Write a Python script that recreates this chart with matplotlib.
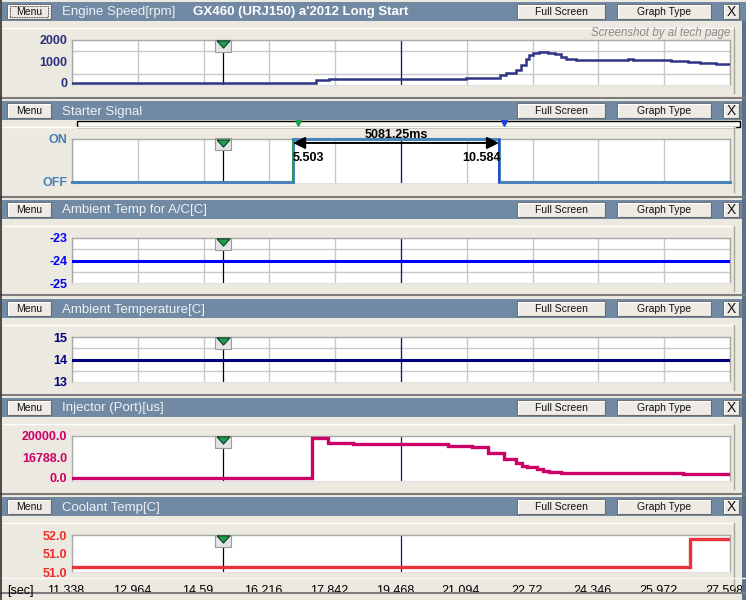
import matplotlib
matplotlib.use("Agg")
import matplotlib.pyplot as plt
from matplotlib.patches import Rectangle
from matplotlib.lines import Line2D
from matplotlib.transforms import blended_transform_factory, offset_copy

plt.rcParams['font.family'] = ['Liberation Sans', 'DejaVu Sans']

# time axis [sec]
time_ticks = [11.338, 12.964, 14.59, 16.216, 17.842, 19.468, 21.094, 22.72, 24.346, 25.972, 27.598]
time_labels = ["11.338", "12.964", "14.59", "16.216", "17.842", "19.468", "21.094",
               "22.72", "24.346", "25.972", "27.598"]
cursor_a = 15.07      # black cursor with green marker
cursor_b = 19.468     # blue cursor

# engine speed [rpm]
rpm_t = [11.338, 17.37, 17.70, 21.08, 21.66, 21.91, 22.06, 22.32, 22.44, 22.55, 22.63, 22.73,
         22.89, 23.10, 23.27, 23.43, 23.55, 23.80, 25.08, 25.20, 26.15, 26.56, 26.85, 27.26, 27.598]
rpm = [0, 135, 195, 240, 210, 365, 445, 600, 835, 1100, 1300, 1405,
       1425, 1380, 1330, 1220, 1130, 1065, 1110, 1065, 1020, 990, 940, 895, 895]

# starter signal (0 = OFF, 1 = ON)
starter_t = [11.338, 16.80, 21.89, 27.598]
starter = [0, 1, 0, 0]
starter_on_label = "5.503"
starter_off_label = "10.584"
starter_span_label = "5081.25ms"

# ambient temps [C]
ac_t = [11.338, 27.598]
ac_temp = [-24, -24]
amb_t = [11.338, 27.598]
amb_temp = [14, 14]

# injector (port) [us]
inj_t = [11.338, 17.27, 17.66, 18.28, 20.63, 21.22, 21.62, 22.01, 22.31, 22.46, 22.58,
         22.83, 22.98, 23.13, 23.42, 26.44, 27.598]
inj = [0, 19190, 16800, 16180, 15370, 14890, 11730, 9150, 6960, 5810, 5190,
       4090, 3420, 2940, 2470, 1990, 1990]

# coolant temp [C]
cool_t = [11.338, 26.61, 27.598]
coolant = [50.78, 51.85, 51.85]

BG = '#ECE9E1'
HEAD = '#7189A3'
W, H = 746, 600
fig = plt.figure(figsize=(W / 100, H / 100), dpi=100, facecolor=BG)


def fx(x): return x / W
def fy(y): return 1 - y / H


def rect(x0, y0, x1, y1, **kw):
    fig.add_artist(Rectangle((fx(x0), fy(y1)), (x1 - x0) / W, (y1 - y0) / H,
                             transform=fig.transFigure, **kw))


def seg(x0, y0, x1, y1, **kw):
    fig.add_artist(Line2D([fx(x0), fx(x1)], [fy(y0), fy(y1)], transform=fig.transFigure, **kw))


def button(x0, y0, x1, y1, label, fs=7.5):
    rect(x0, y0, x1, y1, facecolor='#EEEBE4', edgecolor='#6A6A6A', lw=0.8)
    seg(x0 + 1, y0 + 1, x1 - 1, y0 + 1, color='white', lw=0.8)
    seg(x0 + 1, y0 + 1, x0 + 1, y1 - 1, color='white', lw=0.8)
    fig.text(fx((x0 + x1) / 2), fy((y0 + y1) / 2 + 0.5), label, ha='center', va='center',
             fontsize=fs, color='#111111')


panels = [
    dict(title="Engine Speed[rpm]", t=rpm_t, v=rpm, color='#2E3585', tcol='#2B2F7E',
         ylim=(-100, 2000), ticks=[0, 1000, 2000], labels=["0", "1000", "2000"], grid=True, lw=1.8),
    dict(title="Starter Signal", t=starter_t, v=starter, color='#4A84BA', tcol='#4A7FB5',
         ylim=(-0.03, 1.0), ticks=[0, 1], labels=["OFF", "ON"], grid='x', lw=2.2),
    dict(title="Ambient Temp for A/C[C]", t=ac_t, v=ac_temp, color='#0000FF', tcol='#0000FF',
         ylim=(-25, -23), ticks=[-25, -24, -23], labels=["-25", "-24", "-23"], grid=True, lw=2.2),
    dict(title="Ambient Temperature[C]", t=amb_t, v=amb_temp, color='#00007F', tcol='#00007F',
         ylim=(13, 15), ticks=[13, 14, 15], labels=["13", "14", "15"], grid=True, lw=2.2),
    dict(title="Injector (Port)[us]", t=inj_t, v=inj, color='#CC0066', tcol='#CC0066',
         ylim=(-1500, 20000), ticks=[0, 9500, 20000], labels=["0.0", "16788.0", "20000.0"],
         grid=False, lw=2.4),
    dict(title="Coolant Temp[C]", t=cool_t, v=coolant, color='#E8333A', tcol='#EE2C2C',
         ylim=(50.6, 52.0), ticks=[50.6, 51.3, 52.0], labels=["51.0", "51.0", "52.0"],
         grid=False, lw=2.4),
]

box_marker = [(-1, -0.65), (1, -0.65), (1, 0.65), (-1, 0.65), (-1, -0.65)]
tri_marker = [(-1, 0.55), (1, 0.55), (0, -0.55), (-1, 0.55)]

axes = []
for i, p in enumerate(panels):
    top = 99 * i
    # header bar
    rect(2, top + 2, 746, top + 21, facecolor=HEAD, edgecolor='none')
    button(7, top + 4, 51, top + 19, "Menu")
    button(517, top + 4, 605, top + 19, "Full Screen")
    button(617, top + 4, 711, top + 19, "Graph Type")
    button(723, top + 4, 739, top + 19, "X", fs=10)
    fig.text(fx(62), fy(top + 12.5), p['title'], ha='left', va='center', fontsize=9.5, color='#EEF2F6')
    # panel frame
    seg(3, top + 28, 735, top + 28, color='white', lw=1)
    seg(734, top + 28, 734, top + 93, color='#A9A69C', lw=1)
    seg(0, top + 97.5, 746, top + 97.5, color='#7C7C7C', lw=1.5)

    y0, y1 = top + 40, top + (77 if i == 5 else 85)
    if i == 1:
        y0, y1 = top + 40, top + 84
    ax = fig.add_axes([fx(72), fy(y1), 658 / W, (y1 - y0) / H])
    ax.set_facecolor('white')
    ax.set_xlim(time_ticks[0], time_ticks[-1])
    ax.set_ylim(*p['ylim'])
    ax.set_xticks(time_ticks)
    ax.set_xticklabels([])
    ax.set_yticks(p['ticks'])
    ax.set_yticklabels(p['labels'], fontweight='bold', fontsize=9, color=p['tcol'])
    ax.tick_params(length=0, pad=3.5)
    ax.tick_params(which='minor', length=0)
    lo, hi = p['ylim']
    ax.set_yticks([lo + (hi - lo) * 0.25, lo + (hi - lo) * 0.75], minor=True)
    ax.set_axisbelow(True)
    if p['grid']:
        ax.grid(True, which='major', axis='x', color='#C8C8C8', lw=1)
    if p['grid'] is True:
        ax.grid(True, which='minor', axis='y', color='#C8C8C8', lw=1)
    for s in ('top', 'left', 'right'):
        ax.spines[s].set_color('#A8A8A8')
        ax.spines[s].set_linewidth(1)
    ax.spines['bottom'].set_color('#E0E0E0')

    ax.axvline(cursor_b, color='#14148C', lw=0.9, zorder=2)
    ax.axvline(cursor_a, color='black', lw=0.9, zorder=2)
    ax.plot(p['t'], p['v'], drawstyle='steps-post', color=p['color'], lw=p['lw'],
            zorder=3, clip_on=(i != 1), solid_joinstyle='miter')
    xt = ax.get_xaxis_transform()
    h = y1 - y0
    ax.plot([cursor_a], [1 - 5.5 / h], transform=xt, marker=box_marker, ms=12.2,
            mfc='#E4E4E4', mec='#9A9A9A', mew=0.8, ls='none', zorder=5, clip_on=False)
    ax.plot([cursor_a], [1 - 4 / h], transform=xt, marker=tri_marker, ms=9.4,
            mfc='#1E9E50', mec='#0B3D1E', mew=0.8, ls='none', zorder=6, clip_on=False)
    axes.append(ax)

# title and watermark on the first panel
fig.text(fx(193), fy(12.5), "GX460 (URJ150) a'2012 Long Start", ha='left', va='center',
         fontsize=9.5, fontweight='bold', color='white')
fig.text(fx(730), fy(33), "Screenshot by al tech page", ha='right', va='center',
         fontsize=8.3, style='italic', color='#8A8A8A')
rect(10, 6.5, 48, 16.5, facecolor='none', edgecolor='black', lw=0.6, ls=(0, (1, 1)))

# starter measurement overlay
ax2 = axes[1]
t_on, t_off = starter_t[1], starter_t[2]
ax2.axvline(t_on, color='#1EA050', lw=1.2, zorder=4)
ax2.axvline(t_off, color='#2040C8', lw=1.2, zorder=4)
ax2.annotate('', xy=(t_off, 0.91), xytext=(t_on, 0.91), xycoords=('data', 'axes fraction'),
             textcoords=('data', 'axes fraction'),
             arrowprops=dict(arrowstyle='<|-|>', color='black', lw=1.4, mutation_scale=18,
                             shrinkA=0, shrinkB=0), zorder=6)
ax2.text((t_on + t_off) / 2, 1.09, starter_span_label, transform=ax2.get_xaxis_transform(),
         ha='center', va='center', fontsize=9, fontweight='bold', clip_on=False, zorder=7)
ax2.text(t_on, 0.57, starter_on_label, transform=ax2.get_xaxis_transform(),
         ha='left', va='center', fontsize=9, fontweight='bold', zorder=7)
ax2.text(t_off + 0.05, 0.57, starter_off_label, transform=ax2.get_xaxis_transform(),
         ha='right', va='center', fontsize=9, fontweight='bold', zorder=7)
rect(77, 121, 740, 127, facecolor='#FAFAF2', edgecolor='black', lw=1, zorder=-1)
st = offset_copy(ax2.get_xaxis_transform(), fig=fig, x=5, y=0, units='dots')
ax2.plot([t_on], [1.36], transform=st, marker='v', ms=5, color='#1EA050', ls='none', clip_on=False)
ax2.plot([t_off], [1.36], transform=st, marker='v', ms=5, color='#2040E0', ls='none', clip_on=False)

# bottom time labels
ax6 = axes[-1]
seg(0, 578, 746, 578, color='#F8F8F8', lw=1)
lt = offset_copy(blended_transform_factory(ax6.transData, fig.transFigure), fig=fig, x=-6, units='dots')
for t, lab in zip(time_ticks, time_labels):
    ax6.text(t, fy(591), lab, transform=lt, ha='center', va='center', fontsize=9, clip_on=False)
fig.text(fx(7), fy(591), "[sec]", ha='left', va='center', fontsize=9)

# outer borders
seg(0.5, 0, 0.5, 600, color='#303030', lw=1.2)
rect(742, 21, 746, 600, facecolor='#5E7088', edgecolor='none')

fig.savefig("out.png", dpi=100, facecolor=BG)
